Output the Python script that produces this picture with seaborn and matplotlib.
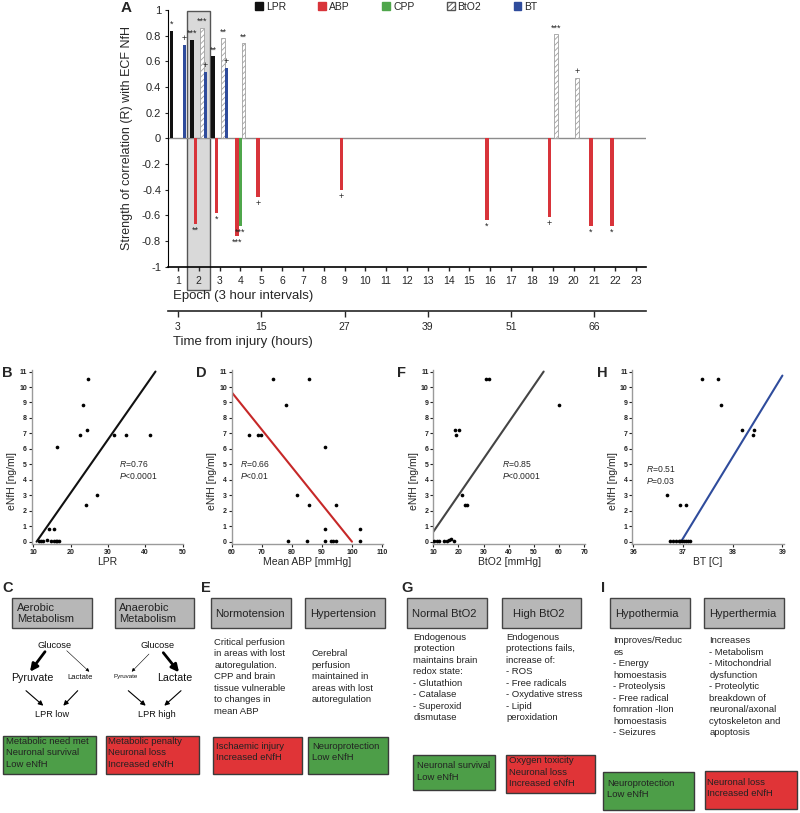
import matplotlib
matplotlib.use("Agg")
import matplotlib.pyplot as plt
import matplotlib.patches as mpatches
import seaborn as sns
import pandas as pd
import numpy as np

sns.set_style("white")
plt.rcParams["font.family"] = ["Liberation Sans", "DejaVu Sans"]
plt.rcParams["mathtext.fontset"] = "custom"
plt.rcParams["mathtext.it"] = "Liberation Sans:italic"
plt.rcParams["mathtext.rm"] = "Liberation Sans"
plt.rcParams["hatch.linewidth"] = 0.6

# ---- panel A data ----
variables = ["LPR", "ABP", "CPP", "BtO2", "BT"]
var_colors = ["#111111", "#d8343a", "#4fa64b", "#ffffff", "#2f4c9c"]
epochs = list(range(1, 24))
hour_epochs = [1, 5, 9, 13, 17, 21]
hour_labels = ["3", "15", "27", "39", "51", "66"]

corr_epoch = [1, 1, 2, 2, 2, 2, 3, 3, 3, 3, 4, 4, 4, 5, 9, 16, 19, 19, 20, 21, 22]
corr_var = ["LPR", "BT", "LPR", "ABP", "BtO2", "BT", "LPR", "ABP", "BtO2", "BT",
            "ABP", "CPP", "BtO2", "ABP", "ABP", "ABP", "ABP", "BtO2", "BtO2", "ABP", "ABP"]
corr_r = [0.84, 0.73, 0.77, -0.665, 0.86, 0.52, 0.64, -0.58, 0.78, 0.55,
          -0.76, -0.68, 0.74, -0.46, -0.40, -0.635, -0.61, 0.81, 0.47, -0.685, -0.685]
corr_sig = ["*", "+", "***", "**", "***", "+", "**", "*", "**", "+",
            "***", "***", "**", "+", "+", "*", "+", "***", "+", "*", "*"]

# ---- scatter panels data ----
lpr_x = [24.8, 23.4, 24.3, 22.5, 16.4, 31.7, 34.8, 41.4, 27.1, 24.2, 14.1, 15.5,
         11.6, 12.1, 12.6, 13.6, 14.9, 15.5, 16.0, 16.4, 17.0]
lpr_y = [10.5, 8.85, 7.2, 6.9, 6.1, 6.9, 6.9, 6.9, 3.05, 2.4, 0.85, 0.85,
         0.05, 0.05, 0.05, 0.1, 0.05, 0.05, 0.05, 0.05, 0.05]
lpr_fit_x = [10.9, 42.75]
lpr_fit_y = [0, 11]

abp_x = [73.8, 85.8, 77.9, 65.9, 68.8, 69.7, 90.8, 81.8, 85.8, 94.7, 90.8, 102.6,
         78.8, 84.9, 90.8, 92.8, 93.7, 94.7, 102.6]
abp_y = [10.5, 10.5, 8.85, 6.9, 6.9, 6.9, 6.1, 3.05, 2.4, 2.4, 0.85, 0.85,
         0.05, 0.05, 0.05, 0.05, 0.05, 0.05, 0.05]
abp_fit_x = [60, 99.9]
abp_fit_y = [9.66, 0]

bto2_x = [30.9, 32.3, 60.1, 18.7, 20.1, 18.9, 21.4, 22.5, 23.6,
          10.4, 11.3, 12.3, 14.4, 15.4, 16.3, 17.0, 18.1]
bto2_y = [10.5, 10.5, 8.85, 7.2, 7.2, 6.9, 3.05, 2.4, 2.4,
          0.05, 0.05, 0.05, 0.05, 0.05, 0.1, 0.15, 0.05]
bto2_fit_x = [10, 53.9]
bto2_fit_y = [0.64, 11]

bt_x = [37.38, 37.70, 37.77, 38.19, 38.43, 38.40, 36.67, 36.93, 37.06,
        36.74, 36.79, 36.86, 36.91, 36.94, 36.98, 37.02, 37.06, 37.10, 37.14]
bt_y = [10.5, 10.5, 8.85, 7.2, 7.2, 6.9, 3.05, 2.4, 2.4,
        0.05, 0.05, 0.05, 0.05, 0.05, 0.05, 0.05, 0.05, 0.05, 0.05]
bt_fit_x = [36.96, 39.0]
bt_fit_y = [0, 10.74]

fig = plt.figure(figsize=(8, 8.13), dpi=100)
W, H = 800, 813


def fig_rect(x0, y0, x1, y1):
    return [x0 / W, 1 - y1 / H, (x1 - x0) / W, (y1 - y0) / H]


# ================= panel A =================
ax = fig.add_axes(fig_rect(168, 10, 646, 266.7))
df = pd.DataFrame({"epoch": corr_epoch, "var": corr_var, "r": corr_r})
sns.barplot(data=df, x="epoch", y="r", hue="var", order=epochs, hue_order=variables,
            palette=dict(zip(variables, var_colors)), width=0.8, saturation=1,
            errorbar=None, legend=False, linewidth=0, ax=ax)
for p in ax.patches:
    if np.allclose(p.get_facecolor()[:3], (1, 1, 1)):
        p.set_hatch("//////")
        p.set_edgecolor("#a0a0a0")
        p.set_linewidth(0.6)

for e, v, r, s in zip(corr_epoch, corr_var, corr_r, corr_sig):
    xpos = epochs.index(e) + (variables.index(v) - 2) * 0.16
    ax.text(xpos, r + (0.015 if r > 0 else -0.015), s, ha="center",
            va="bottom" if r > 0 else "top", fontsize=6.5, color="#222")

ax.axhline(0, color="#8c8c8c", lw=1, zorder=0.8)
ax.add_patch(mpatches.Rectangle((0.45, -1.18), 1.07, 2.17, facecolor="#d9d9d9",
                                edgecolor="#555", lw=1, clip_on=False, zorder=0.5))
ax.set_xlim(-0.48, 22.48)
ax.set_ylim(-1, 1)
yt = np.round(np.arange(-1, 1.01, 0.2), 1)
ax.set_yticks(yt, labels=["0" if v == 0 else f"{v:g}" for v in yt], fontsize=8)
ax.set_xticks(range(len(epochs)), labels=[str(e) for e in epochs], fontsize=7.5)
ax.tick_params(axis="x", direction="out", length=3, width=1, pad=4, bottom=True)
ax.tick_params(axis="y", direction="out", length=2, width=0.8, pad=3, left=True)
sns.despine(ax=ax)
ax.spines["left"].set_color("black")
ax.spines["bottom"].set_color("black")
ax.spines["bottom"].set_linewidth(1.2)
ax.set_ylabel("Strength of correlation (R) with ECF NfH", fontsize=9)
ax.yaxis.set_label_coords(-0.073, 0.5)
ax.set_xlabel("Epoch (3 hour intervals)", fontsize=9.5, loc="left", labelpad=2.5)
ax.xaxis.label.set_x(0.01)

sec = ax.secondary_xaxis(-0.1726)
sec.set_xticks([epochs.index(h) for h in hour_epochs], labels=hour_labels)
sec.tick_params(direction="out", length=4, width=1, labelsize=7.5, pad=4)
sec.spines["bottom"].set_linewidth(1.2)
sec.set_xlabel("Time from injury (hours)", fontsize=9.5, loc="left", labelpad=3)
sec.xaxis.label.set_x(0.01)

handles = []
for v, c in zip(variables, var_colors):
    if v == "BtO2":
        handles.append(mpatches.Patch(facecolor="white", edgecolor="#555", hatch="//////", label=v))
    else:
        handles.append(mpatches.Patch(facecolor=c, edgecolor=c, label=v))
ax.legend(handles=handles, loc="center left", bbox_to_anchor=(255 / W, 1 - 6.5 / H),
          bbox_transform=fig.transFigure, ncol=5, frameon=False, fontsize=7.5,
          handlelength=0.75, handleheight=0.75, handletextpad=0.3, columnspacing=3.1,
          borderpad=0, borderaxespad=0)

# ================= scatter panels =================
panels = [
    (31.7, lpr_x, lpr_y, lpr_fit_x, lpr_fit_y, "#111111", (9.6, 50.2), [10, 20, 30, 40, 50],
     "LPR", "$R$=0.76\n$P$<0.0001", (33.1, 5.35)),
    (231.7, abp_x, abp_y, abp_fit_x, abp_fit_y, "#c62828", (60, 110.3), [60, 70, 80, 90, 100, 110],
     "Mean ABP [mmHg]", "$R$=0.66\n$P$<0.01", (62.8, 5.35)),
    (433.3, bto2_x, bto2_y, bto2_fit_x, bto2_fit_y, "#444444", (10, 70.3), [10, 20, 30, 40, 50, 60, 70],
     "BtO2 [mmHg]", "$R$=0.85\n$P$<0.0001", (37.5, 5.35)),
    (632.3, bt_x, bt_y, bt_fit_x, bt_fit_y, "#2f4c9c", (35.98, 39.03), [36, 37, 38, 39],
     "BT [C]", "$R$=0.51\n$P$=0.03", (36.25, 5.03)),
]
for left, xs, ys, fx, fy, col, xl, xt, xlab, stat, sxy in panels:
    sax = fig.add_axes(fig_rect(left, 370, left + 151.6, 544))
    sns.lineplot(x=fx, y=fy, color=col, lw=1.5, ax=sax)
    sns.scatterplot(x=xs, y=ys, color="black", s=7, linewidth=0, ax=sax, zorder=3)
    sax.set_xlim(*xl)
    sax.set_ylim(-0.15, 11.1)
    sax.set_xticks(xt)
    sax.set_yticks(range(0, 12))
    sax.tick_params(labelsize=5, length=2, width=0.8, pad=1.5, left=True, bottom=True,
                    colors="#222")
    plt.setp(sax.get_xticklabels() + sax.get_yticklabels(), fontweight="bold")
    sns.despine(ax=sax)
    for sp in ("left", "bottom"):
        sax.spines[sp].set_color("#9a9a9a")
        sax.spines[sp].set_linewidth(1)
    sax.set_ylabel("eNfH [ng/ml]", fontsize=7.5)
    sax.yaxis.set_label_coords(-0.095, 0.36)
    sax.set_xlabel(xlab, fontsize=7.5)
    sax.xaxis.set_label_coords(0.5, -0.072)
    sax.text(sxy[0], sxy[1], stat, fontsize=6.2, va="top", ha="left", linespacing=1.25)

# ================= diagram panels =================
ax_bg = fig.add_axes([0, 0, 1, 1])
ax_bg.set_xlim(0, W)
ax_bg.set_ylim(H, 0)
ax_bg.axis("off")
ax_bg.patch.set_alpha(0)

panel_letters = ["A", "B", "D", "F", "H", "C", "E", "G", "I"]
letter_pos = [(121, 8), (2, 373), (196, 373), (397, 373), (597, 373),
              (2, 588), (201, 588), (401, 588), (601, 588)]
for lt, (lx, ly) in zip(panel_letters, letter_pos):
    ax_bg.text(lx, ly, lt, fontsize=11 if lt == "A" else 10.5, fontweight="bold",
               ha="left", va="center")

gray_titles = ["Aerobic\nMetabolism", "Anaerobic\nMetabolism", "Normotension", "Hypertension",
               "Normal BtO2", "High BtO2", "Hypothermia", "Hyperthermia"]
gray_x = [(12.3, 91.7), (115, 194.3), (211, 290.7), (305.3, 385),
          (407.3, 487), (501.7, 581), (610, 689.7), (704.3, 784)]
gray_tx = [16.7, 119, 215, 310, 411.7, 512.7, 615, 709.3]
for t, (x0, x1), tx in zip(gray_titles, gray_x, gray_tx):
    ax_bg.add_patch(mpatches.Rectangle((x0, 598.3), x1 - x0, 30, facecolor="#b7b7b7",
                                       edgecolor="#444", lw=1))
    ax_bg.text(tx, 613.5, t, fontsize=8, ha="left", va="center", linespacing=1.2, color="#222")

body_texts = [
    "Critical perfusion\nin areas with lost\nautoregulation.\nCPP and brain\ntissue vulnerable\nto changes in\nmean ABP",
    "Cerebral\nperfusion\nmaintained in\nareas with lost\nautoregulation",
    "Endogenous\nprotection\nmaintains brain\nredox state:\n- Glutathion\n- Catalase\n- Superoxid\ndismutase",
    "Endogenous\nprotections fails,\nincrease of:\n- ROS\n- Free radicals\n- Oxydative stress\n- Lipid\nperoxidation",
    "Improves/Reduc\nes\n- Energy\nhomoestasis\n- Proteolysis\n- Free radical\nfomration -lIon\nhomoestasis\n- Seizures",
    "Increases\n- Metabolism\n- Mitochondrial\ndysfunction\n- Proteolytic\nbreakdown of\nneuronal/axonal\ncytoskeleton and\napoptosis",
]
body_pos = [(214.3, 637.5), (311.7, 649.2), (413.3, 632.5), (506, 632.5), (613.3, 636), (709.3, 636)]
for t, (bx, by) in zip(body_texts, body_pos):
    ax_bg.text(bx, by, t, fontsize=6.8, ha="left", va="top", linespacing=1.36, color="#222")

outcome_texts = ["Metabolic need met\nNeuronal survival\nLow eNfH",
                 "Metabolic penalty\nNeuronal loss\nIncreased eNfH",
                 "Ischaemic injury\nIncreased eNfH", "Neuroprotection\nLow eNfH",
                 "Neuronal survival\nLow eNfH", "Oxygen toxicity\nNeuronal loss\nIncreased eNfH",
                 "Neuroprotection\nLow eNfH", "Neuronal loss\nIncreased eNfH"]
outcome_green = [True, False, False, True, True, False, True, False]
outcome_box = [(3.3, 735.7, 95.7, 774), (106, 735.7, 198.7, 774),
               (212.7, 737.3, 301.7, 774), (307.7, 737.3, 388.3, 774),
               (413.3, 755, 495, 790), (506, 755, 595, 793.3),
               (602.7, 771.7, 694.3, 810), (705, 770.7, 797.3, 809)]
outcome_txt = [(6, 736.8), (108, 736.8), (215.7, 741.8), (312.3, 741.8),
               (417.3, 761.2), (509.3, 756.2), (607.3, 778.8), (707.3, 777.8)]
for t, g, (x0, y0, x1, y1), (tx, ty) in zip(outcome_texts, outcome_green, outcome_box, outcome_txt):
    ax_bg.add_patch(mpatches.Rectangle((x0, y0), x1 - x0, y1 - y0,
                                       facecolor="#4d9e48" if g else "#e03437",
                                       edgecolor="#3a3a3a", lw=1))
    ax_bg.text(tx, ty, t, fontsize=6.8, ha="left", va="top", linespacing=1.36, color="#222")

# metabolism schemes (panel C)
scheme_words = ["Glucose", "Pyruvate", "Lactate", "LPR low",
                "Glucose", "Pyruvate", "Lactate", "LPR high"]
scheme_pos = [(54.3, 645), (32.3, 678.3), (80, 677), (52.3, 714),
              (157.3, 645), (126, 676.7), (175, 678.3), (156.7, 714)]
scheme_size = [6.7, 7.7, 5.5, 6.6, 6.7, 4.4, 7.7, 6.6]
for w, (wx, wy), fs in zip(scheme_words, scheme_pos, scheme_size):
    ax_bg.text(wx, wy, w, fontsize=fs, ha="center", va="center", color="#111")

arrows = [((45, 651.7), (30, 671.7), 2.0, 11), ((66.7, 650.7), (89.3, 671.7), 0.4, 5),
          ((26, 690.7), (43.3, 705.7), 0.8, 7), ((77.7, 690.7), (63.3, 705.7), 0.8, 7),
          ((149, 654), (131.7, 671.7), 0.4, 5), ((163.3, 652.7), (179, 672.3), 2.0, 11),
          ((128.3, 690.7), (145.7, 705.7), 0.8, 7), ((181, 690.7), (164.3, 705.7), 0.8, 7)]
for start, end, lw, ms in arrows:
    ax_bg.annotate("", xy=end, xytext=start,
                   arrowprops=dict(arrowstyle="-|>", lw=lw, color="black", mutation_scale=ms,
                                   shrinkA=0, shrinkB=0))

fig.savefig("out.png", dpi=100)
